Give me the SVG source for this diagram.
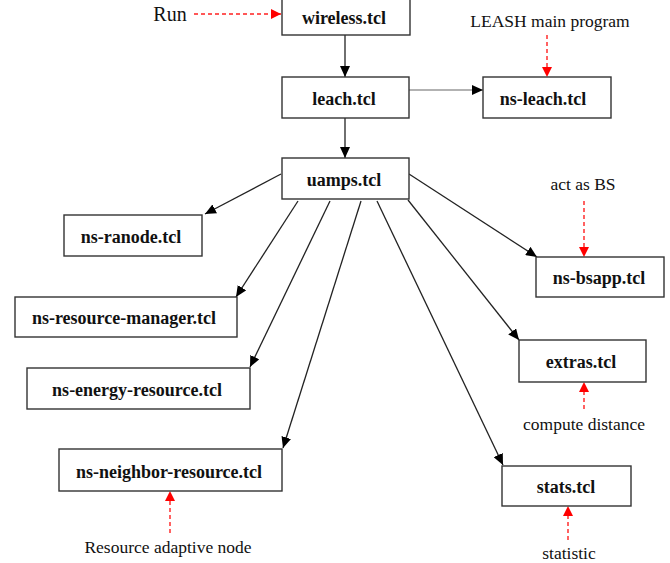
<svg xmlns="http://www.w3.org/2000/svg" width="670" height="563" viewBox="0 0 670 563">
<style>
  .box { fill: #fff; stroke: #333; stroke-width: 1.4; }
  .lbl { font-family: "Liberation Serif", "Times New Roman", serif; font-weight: bold; font-size: 18px; fill: #111; text-anchor: middle; }
  .note { font-family: "Liberation Serif", "Times New Roman", serif; font-size: 17.5px; fill: #111; text-anchor: middle; }
  .edge { stroke: #222; stroke-width: 1.3; fill: none; marker-end: url(#ah); }
  .edge2 { stroke: #666; stroke-width: 1.1; fill: none; marker-end: url(#ah); }
  .red { stroke: #ff2020; stroke-width: 1.4; stroke-dasharray: 4 3; fill: none; marker-end: url(#rah); }
</style>
<defs>
  <marker id="ah" markerUnits="userSpaceOnUse" markerWidth="12" markerHeight="10" refX="11" refY="5" orient="auto">
    <path d="M0,0 L11,5 L0,10 z" fill="#000"/>
  </marker>
  <marker id="rah" markerUnits="userSpaceOnUse" markerWidth="11" markerHeight="10" refX="10" refY="5" orient="auto">
    <path d="M0,0 L10,5 L0,10 z" fill="#ff0000"/>
  </marker>
</defs>
<g id="connectors">
  <line class="edge" x1="345" y1="35" x2="345" y2="77"/>
  <line class="edge2" x1="409" y1="90" x2="483" y2="90"/>
  <line class="edge" x1="345" y1="118" x2="345" y2="158"/>
  <line class="edge" x1="281" y1="174" x2="205" y2="214"/>
  <line class="edge" x1="298" y1="201" x2="236" y2="297"/>
  <line class="edge" x1="330" y1="201" x2="250" y2="367"/>
  <line class="edge" x1="361" y1="201" x2="283" y2="448"/>
  <line class="edge" x1="409" y1="174" x2="537" y2="257"/>
  <line class="edge" x1="408" y1="200" x2="519" y2="340"/>
  <line class="edge" x1="377" y1="201" x2="503" y2="465"/>
  <line class="red" x1="194" y1="14" x2="281" y2="14"/>
  <line class="red" x1="547" y1="35" x2="547" y2="77"/>
  <line class="red" x1="584" y1="201" x2="584" y2="257"/>
  <line class="red" x1="584" y1="409" x2="584" y2="382"/>
  <line class="red" x1="170" y1="533" x2="170" y2="491"/>
  <line class="red" x1="568" y1="540" x2="568" y2="506"/>
</g>
<g id="wireless"><rect class="box" x="282" y="-1" width="128" height="36"/><text class="lbl" x="344" y="24">wireless.tcl</text></g>
<g id="leach"><rect class="box" x="282" y="77" width="127" height="41"/><text class="lbl" x="344" y="105">leach.tcl</text></g>
<g id="ns-leach"><rect class="box" x="483" y="77" width="128" height="41"/><text class="lbl" x="543" y="105">ns-leach.tcl</text></g>
<g id="uamps"><rect class="box" x="282" y="158" width="127" height="41"/><text class="lbl" x="344" y="186">uamps.tcl</text></g>
<g id="ns-ranode"><rect class="box" x="64" y="215" width="138" height="41"/><text class="lbl" x="131" y="243">ns-ranode.tcl</text></g>
<g id="ns-resource-manager"><rect class="box" x="15" y="297" width="222" height="40"/><text class="lbl" x="124" y="324">ns-resource-manager.tcl</text></g>
<g id="ns-energy-resource"><rect class="box" x="27" y="368" width="223" height="41"/><text class="lbl" x="137" y="396">ns-energy-resource.tcl</text></g>
<g id="ns-neighbor-resource"><rect class="box" x="59" y="449" width="223" height="42"/><text class="lbl" x="169" y="478">ns-neighbor-resource.tcl</text></g>
<g id="ns-bsapp"><rect class="box" x="536" y="257" width="128" height="40"/><text class="lbl" x="599" y="284">ns-bsapp.tcl</text></g>
<g id="extras"><rect class="box" x="519" y="340" width="127" height="42"/><text class="lbl" x="581" y="368">extras.tcl</text></g>
<g id="stats"><rect class="box" x="502" y="466" width="129" height="40"/><text class="lbl" x="566" y="493">stats.tcl</text></g>
<g id="notes">
  <text class="note" x="170" y="21" style="font-size:20px">Run</text>
  <text class="note" x="550" y="27">LEASH main program</text>
  <text class="note" x="583" y="190">act as BS</text>
  <text class="note" x="584" y="430">compute distance</text>
  <text class="note" x="168" y="553">Resource adaptive node</text>
  <text class="note" x="569" y="559">statistic</text>
</g>
</svg>
